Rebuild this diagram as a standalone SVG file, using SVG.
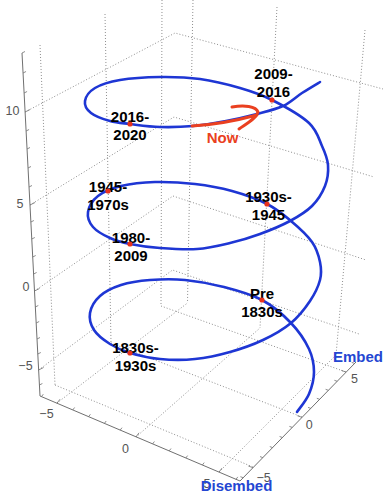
<svg xmlns="http://www.w3.org/2000/svg" width="392" height="496" viewBox="0 0 392 496">
<style>
.grid{stroke:#8e8e8e;stroke-width:1;stroke-dasharray:1 2;fill:none}
.axis{stroke:#707070;stroke-width:1;fill:none}
.tick{stroke:#707070;stroke-width:0.8}
.tl{font-family:"Liberation Sans",Arial,sans-serif;font-size:12.5px;fill:#555;text-anchor:middle}
.lbl{font-family:"Liberation Sans",Arial,sans-serif;font-size:15px;font-weight:bold;fill:#000;text-anchor:middle}
.ax{font-family:"Liberation Sans",Arial,sans-serif;font-size:15px;font-weight:bold;fill:#2446d2}
.dot{fill:#e8321c}
.helix{stroke:#1e36d4;stroke-width:2.6;fill:none;stroke-linecap:round}
.now{stroke:#ea4020;stroke-width:3;fill:none;stroke-linecap:round;stroke-linejoin:round}
</style>
<rect width="392" height="496" fill="#fff"/>
<g id="grid">
<path class="grid" d="M25.1,112 L175,33 L383,89 M30,205 L174,117 L374,177 M34.5,291 L173,196 L366,260 M38.6,370 L172.5,270 L359,334"/>
<path class="grid" d="M40,45 L55,385 M105,14 L111,343 M162,0 L161,306 M193,0 L187.5,303 M277,7 L260,328 M365,30 L336,355"/>
<path class="grid" d="M57,403 L187.5,303 M136,437 L260,328 M219,472 L336,355 M55,385 L253,467 M111,343 L302,417 M161,306 L346,372"/>
</g>
<g id="axes">
<path class="axis" d="M22,53 L40,396 L240,481 L356,362"/>
<path class="tick" d="M22,53 l3,-1.5 M23.05,73 l3,-1.5 M24.1,93 l3,-1.5 M25.1,112 l5,-2.5 M26.1,131 l3,-1.5 M27,149 l3,-1.5 M28,168 l3,-1.5 M29,187 l3,-1.5 M30,205 l5,-2.5 M30.9,222 l3,-1.5 M31.8,239 l3,-1.5 M32.7,257 l3,-1.5 M33.6,274 l3,-1.5 M34.5,291 l5,-2.5 M35.3,307 l3,-1.5 M36.2,323 l3,-1.5 M37,339 l3,-1.5 M37.8,354 l3,-1.5 M38.6,370 l5,-2.5 M39.4,385 l3,-1.5"/>
<path class="tick" d="M41.5,396.6 l1.8,-2.4 M57,403.2 l3,-4 M72.8,409.9 l1.8,-2.4 M88.6,416.7 l1.8,-2.4 M104.4,423.4 l1.8,-2.4 M120.2,430.1 l1.8,-2.4 M136,436.8 l3,-4 M152.6,443.9 l1.8,-2.4 M169.2,450.9 l1.8,-2.4 M185.8,458 l1.8,-2.4 M202.4,465 l1.8,-2.4 M219,472.1 l3,-4 M236,479.3 l1.8,-2.4"/>
<path class="tick" d="M243.2,477.7 l-2.8,-1 M253,467.7 l-4.7,-1.7 M262.8,457.6 l-2.8,-1 M272.6,447.6 l-2.8,-1 M282.4,437.5 l-2.8,-1 M292.2,427.4 l-2.8,-1 M302,417.4 l-4.7,-1.7 M310.8,408.4 l-2.8,-1 M319.6,399.3 l-2.8,-1 M328.4,390.3 l-2.8,-1 M337.2,381.3 l-2.8,-1 M346,372.1 l-4.7,-1.7 M354.5,363.4 l-2.8,-1"/>
<text class="tl" x="12.5" y="115">10</text>
<text class="tl" x="20" y="207.5">5</text>
<text class="tl" x="26" y="291">0</text>
<text class="tl" x="25.5" y="370">−5</text>
<text class="tl" x="46.5" y="418">−5</text>
<text class="tl" x="125.5" y="453">0</text>
<text class="tl" x="207" y="488">5</text>
<text class="tl" x="263.7" y="482">−5</text>
<text class="tl" x="309.3" y="429">0</text>
<text class="tl" x="354.5" y="383">5</text>
<text class="ax" x="333" y="361.7">Embed</text>
<text class="ax" x="200.7" y="490.5">Disembed</text>
</g>
<g id="connectors">
<path class="helix" d="M297,412 C299,409 306.2,400.7 309,394 C311.8,387.3 314,379.5 314,372 C314,364.5 312.8,357.2 309,349 C305.2,340.8 298.8,331.2 291,323 C283.2,314.8 273.2,306 262,300 C250.8,294 236.8,290.3 224,287 C211.2,283.7 197.3,281.2 185,280 C172.7,278.8 160.7,279.2 150,280 C139.3,280.8 129.3,282.3 121,285 C112.7,287.7 105.2,291.3 100,296 C94.8,300.7 91,307.3 90,313 C89,318.7 90.7,324.8 94,330 C97.3,335.2 104,340.2 110,344 C116,347.8 121.7,350.5 130,353 C138.3,355.5 149.2,358 160,359 C170.8,360 183.3,360.2 195,359 C206.7,357.8 218.7,355.2 230,352 C241.3,348.8 252.8,344.8 263,340 C273.2,335.2 283.2,329.5 291,323 C298.8,316.5 305.2,308.2 310,301 C314.8,293.8 318.3,286.5 320,280 C321.7,273.5 321.3,268.3 320,262 C318.7,255.7 316.8,248.8 312,242 C307.2,235.2 298.5,227.3 291,221 C283.5,214.7 276.8,209 267,204 C257.2,199 244,194.3 232,191 C220,187.7 207.8,185.5 195,184 C182.2,182.5 167.3,181.7 155,182 C142.7,182.3 130.5,183.7 121,186 C111.5,188.3 103.5,191.7 98,196 C92.5,200.3 88.8,206.8 88,212 C87.2,217.2 89.3,222.7 93,227 C96.7,231.3 103.8,235.2 110,238 C116.2,240.8 121.7,242.3 130,244 C138.3,245.7 148.8,247.2 160,248 C171.2,248.8 185.3,249.8 197,249 C208.7,248.2 219.5,245.5 230,243 C240.5,240.5 250,237.7 260,234 C270,230.3 281.3,225.7 290,221 C298.7,216.3 306.2,211.8 312,206 C317.8,200.2 322.3,192.8 325,186 C327.7,179.2 328.5,171.7 328,165 C327.5,158.3 325.2,153 322,146 C318.8,139 317.3,130.7 309,123 C300.7,115.3 283.5,105.8 272,100 C260.5,94.2 252,91.5 240,88 C228,84.5 213.3,80.8 200,79 C186.7,77.2 173.3,76.8 160,77 C146.7,77.2 130.8,78.2 120,80 C109.2,81.8 100.8,84.5 95,88 C89.2,91.5 85.7,96.8 85,101 C84.3,105.2 86.8,109.7 91,113 C95.2,116.3 103.5,119.2 110,121 C116.5,122.8 121.7,123 130,124 C138.3,125 149.5,126.7 160,127 C170.5,127.3 182,127 193,126 C204,125 215.3,123 226,121 C236.7,119 247.5,116.5 257,114 C266.5,111.5 275.5,109.5 283,106 C290.5,102.5 295.8,97 302,93 C308.2,89 317,83.8 320,82"/>
<path class="now" d="M192,126 C210,125 235,121 257,115 M232,107 C244,105 256,106 258,112 C256,119 246,124 239,129"/>
</g>
<g id="now">
<text x="222.5" y="143" style="font-family:'Liberation Sans',Arial,sans-serif;font-size:15px;font-weight:bold;fill:#ea4020;text-anchor:middle">Now</text>
</g>
<g id="n2009">
<text class="lbl" x="273.5" y="78.5">2009-</text>
<text class="lbl" x="273.5" y="96.5">2016</text>
<circle class="dot" cx="272" cy="100" r="2.6"/>
</g>
<g id="n2016">
<text class="lbl" x="130" y="122">2016-</text>
<text class="lbl" x="130" y="139.5">2020</text>
<circle class="dot" cx="130" cy="124" r="2.6"/>
</g>
<g id="n1945">
<text class="lbl" x="108" y="192">1945-</text>
<text class="lbl" x="108" y="209.5">1970s</text>
<circle class="dot" cx="108" cy="191" r="2.6"/>
</g>
<g id="n1930">
<text class="lbl" x="268.5" y="202">1930s-</text>
<text class="lbl" x="268.5" y="219.5">1945</text>
<circle class="dot" cx="267" cy="204" r="2.6"/>
</g>
<g id="n1980">
<text class="lbl" x="131" y="243">1980-</text>
<text class="lbl" x="131" y="261">2009</text>
<circle class="dot" cx="130" cy="244" r="2.6"/>
</g>
<g id="npre">
<text class="lbl" x="262" y="299">Pre</text>
<text class="lbl" x="262" y="317">1830s</text>
<circle class="dot" cx="262" cy="300" r="2.6"/>
</g>
<g id="n1830">
<text class="lbl" x="135.5" y="353">1830s-</text>
<text class="lbl" x="135.5" y="371">1930s</text>
<circle class="dot" cx="130" cy="353" r="2.6"/>
</g>
</svg>
